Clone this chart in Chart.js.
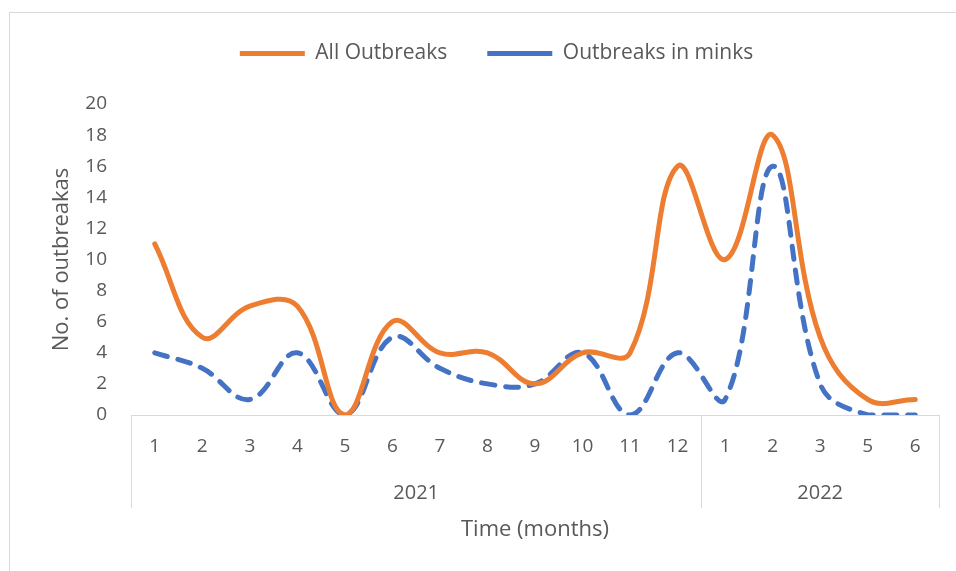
<!DOCTYPE html>
<html lang="en">
<head>
  <meta charset="UTF-8">
  <title>Outbreaks per month</title>
  <style>
    body { margin: 0; background: #fff; }
    .quadro {
      position: absolute; left: 9px; top: 12px; width: 960px; height: 570px;
      border: 1px solid #d9d9d9;
    }
    .grafico { position: absolute; left: 0; top: 0; width: 956px; height: 571px; }
  </style>
</head>
<body>
  <div class="quadro"></div>
  <div class="grafico">
    <canvas id="chart_surtos" width="956" height="571"></canvas>
  </div>

  <script src="https://cdn.jsdelivr.net/npm/chart.js"></script>
  <script>
    // meses (nivel 1 do eixo) e anos (nivel 2)
    const meses = ['1', '2', '3', '4', '5', '6', '7', '8', '9', '10', '11', '12', '1', '2', '3', '5', '6'];
    const anos = ['2021', '2022'];
    const mesesPorAno = [12, 5];

    const todosSurtos = [11, 5, 7, 7, 0, 6, 4, 4, 2, 4, 4, 16, 10, 18, 5, 1, 1];
    const surtosVisons = [4, 3, 1, 4, 0, 5, 3, 2, 2, 4, 0, 4, 1, 16, 2, 0, 0];

    const corTexto = '#595959';
    const corEixo = '#d9d9d9';

    // desenha a segunda linha do eixo x (anos) e os separadores
    const eixoAnos = {
      id: 'eixoAnos',
      afterDraw(chart) {
        const ctx = chart.ctx;
        const x = chart.scales.x;
        const area = chart.chartArea;
        const topo = area.bottom;
        const fundo = topo + 93;

        let inicio = 0;
        const limites = [area.left];
        anos.forEach((ano, i) => {
          const fim = inicio + mesesPorAno[i] - 1;
          let dir = area.right;
          if (i < anos.length - 1) {
            dir = (x.getPixelForValue(fim) + x.getPixelForValue(fim + 1)) / 2;
          }
          limites.push(dir);
          inicio = fim + 1;
        });

        ctx.save();
        ctx.strokeStyle = corEixo;
        ctx.lineWidth = 1;
        limites.forEach(px => {
          const p = Math.round(px) + 0.5;
          ctx.beginPath();
          ctx.moveTo(p, topo);
          ctx.lineTo(p, fundo);
          ctx.stroke();
        });

        ctx.fillStyle = corTexto;
        ctx.font = '20px "Open Sans"';
        ctx.textAlign = 'center';
        ctx.textBaseline = 'middle';
        anos.forEach((ano, i) => {
          ctx.fillText(ano, (limites[i] + limites[i + 1]) / 2, topo + 78);
        });
        ctx.restore();
      }
    };

    const ctx = document.getElementById('chart_surtos').getContext('2d');
    new Chart(ctx, {
      type: 'line',
      data: {
        labels: meses,
        datasets: [
          {
            label: 'All Outbreaks',
            data: todosSurtos,
            borderColor: '#ED7D31',
            backgroundColor: '#ED7D31',
            borderWidth: 5,
            borderCapStyle: 'round',
            borderJoinStyle: 'round',
            tension: 0.4,
            pointRadius: 0,
            fill: false
          },
          {
            label: 'Outbreaks in minks',
            data: surtosVisons,
            borderColor: '#4472C4',
            backgroundColor: '#4472C4',
            borderWidth: 5,
            borderDash: [13, 11],
            borderCapStyle: 'round',
            borderJoinStyle: 'round',
            tension: 0.4,
            pointRadius: 0,
            fill: false
          }
        ]
      },
      options: {
        responsive: false,
        animation: false,
        layout: { padding: { left: 54, right: 17, top: 3, bottom: 30 } },
        plugins: {
          legend: {
            position: 'top',
            weight: 3000,
            labels: {
              usePointStyle: true,
              pointStyle: 'line',
              pointStyleWidth: 65,
              padding: 40,
              color: corTexto,
              font: { family: 'Open Sans', size: 21 }
            }
          },
          // titulo vazio so para dar espaco entre a legenda e o grafico
          title: {
            display: true,
            text: ' ',
            padding: 0,
            font: { size: 30, lineHeight: 1 }
          },
          tooltip: { enabled: false }
        },
        scales: {
          x: {
            offset: true,
            grid: { display: false, drawTicks: false },
            border: { display: true, color: corEixo, width: 1 },
            ticks: {
              color: corTexto,
              font: { family: 'Open Sans', size: 19 },
              padding: 20,
              autoSkip: false,
              maxRotation: 0
            },
            title: {
              display: true,
              text: 'Time (months)',
              color: corTexto,
              font: { family: 'Open Sans', size: 22, lineHeight: 1 },
              padding: 0
            },
            afterFit: s => { s.height = 126; }
          },
          y: {
            min: 0,
            max: 20,
            grid: { display: false, drawTicks: false },
            border: { display: false },
            ticks: {
              stepSize: 2,
              color: corTexto,
              font: { family: 'Open Sans', size: 19 },
              padding: 24
            },
            title: {
              display: true,
              text: 'No. of outbreakas',
              color: corTexto,
              font: { family: 'Open Sans', size: 22, lineHeight: 1 },
              padding: { top: -3, bottom: 0 }
            },
            afterFit: s => { s.width = 77; }
          }
        }
      },
      plugins: [eixoAnos]
    });
  </script>
</body>
</html>
